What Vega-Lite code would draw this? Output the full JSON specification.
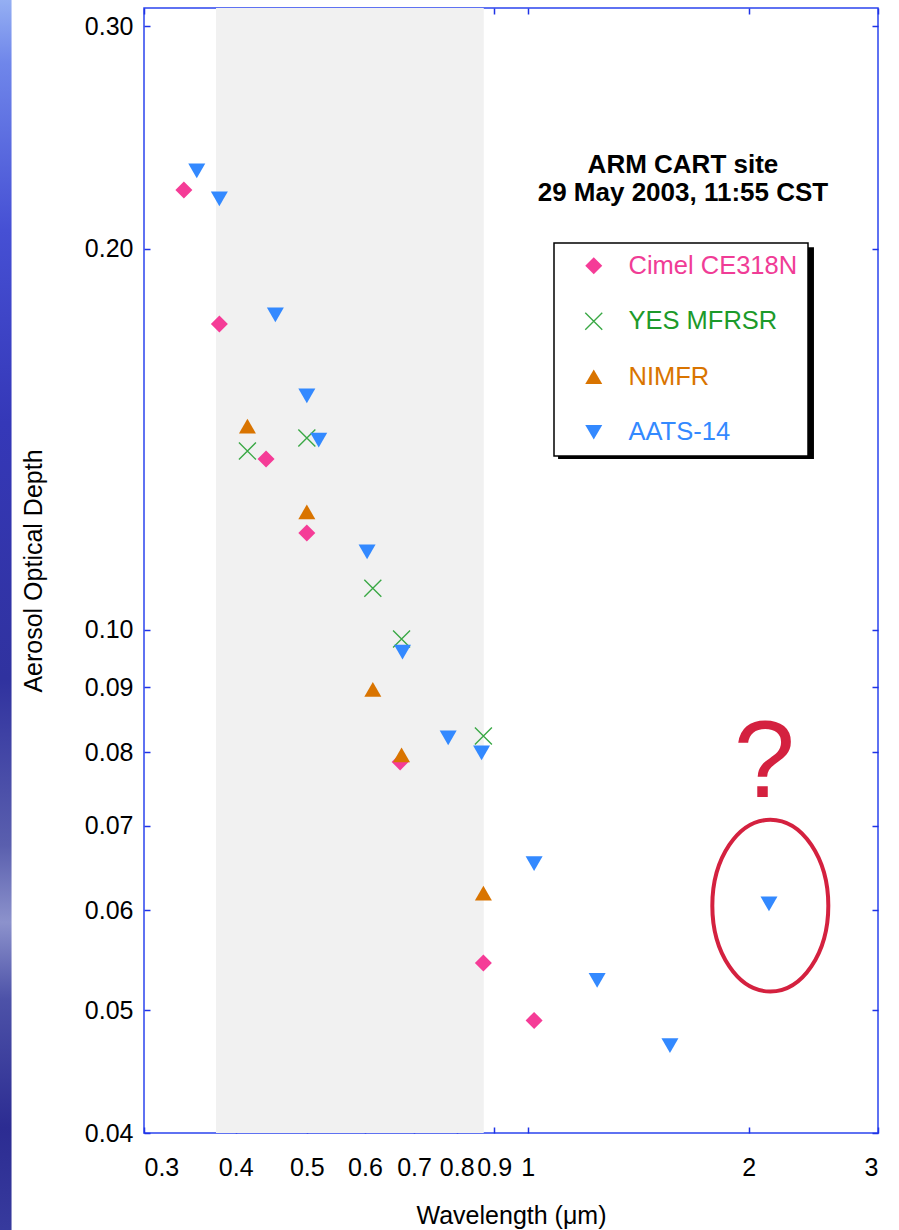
{
  "$schema": "https://vega.github.io/schema/vega-lite/v6.json",
  "width": 734,
  "height": 1125,
  "autosize": {"type": "none"},
  "padding": {"left": 144, "top": 8, "right": 21, "bottom": 97},
  "background": "white",
  "config": {
    "font": "Liberation Sans",
    "view": {"stroke": "#2b44ee", "strokeWidth": 1.5},
    "axis": {"grid": false, "domain": false, "tickColor": "#1f33e6", "tickWidth": 1.5, "tickSize": -6, "labelFont": "Liberation Sans", "labelFontSize": 25, "labelColor": "#000000", "titleFont": "Liberation Sans", "titleFontSize": 25, "titleFontWeight": "normal", "titleColor": "#000000"},
    "legend": {"orient": "none", "legendX": 410, "legendY": 235, "padding": 10, "strokeColor": "#000000", "strokeWidth": 1.5, "fillColor": "#ffffff", "labelFont": "Liberation Sans", "labelFontSize": 25.5, "labelLimit": 400, "symbolSize": 289, "symbolOffset": 17, "labelOffset": 22, "rowPadding": 28.5, "symbolStrokeWidth": 0,
      "labelColor": {"expr": "datum.value === 'Cimel CE318N' ? '#f03c96' : datum.value === 'YES MFRSR' ? '#1c9a2a' : datum.value === 'NIMFR' ? '#d97400' : '#3389ff'"}}
  },
  "datasets": {
    "points": [
      {"wl": 0.340, "aod": 0.2226, "inst": "Cimel CE318N"},
      {"wl": 0.380, "aod": 0.1744, "inst": "Cimel CE318N"},
      {"wl": 0.440, "aod": 0.1364, "inst": "Cimel CE318N"},
      {"wl": 0.500, "aod": 0.1192, "inst": "Cimel CE318N"},
      {"wl": 0.670, "aod": 0.0786, "inst": "Cimel CE318N"},
      {"wl": 0.870, "aod": 0.0545, "inst": "Cimel CE318N"},
      {"wl": 1.020, "aod": 0.0491, "inst": "Cimel CE318N"},
      {"wl": 0.415, "aod": 0.1384, "inst": "YES MFRSR"},
      {"wl": 0.500, "aod": 0.1417, "inst": "YES MFRSR"},
      {"wl": 0.615, "aod": 0.1078, "inst": "YES MFRSR"},
      {"wl": 0.673, "aod": 0.0983, "inst": "YES MFRSR"},
      {"wl": 0.870, "aod": 0.0824, "inst": "YES MFRSR"},
      {"wl": 0.415, "aod": 0.1448, "inst": "NIMFR"},
      {"wl": 0.500, "aod": 0.1239, "inst": "NIMFR"},
      {"wl": 0.615, "aod": 0.0897, "inst": "NIMFR"},
      {"wl": 0.673, "aod": 0.0796, "inst": "NIMFR"},
      {"wl": 0.870, "aod": 0.0619, "inst": "NIMFR"},
      {"wl": 0.354, "aod": 0.2305, "inst": "AATS-14"},
      {"wl": 0.380, "aod": 0.2190, "inst": "AATS-14"},
      {"wl": 0.453, "aod": 0.1773, "inst": "AATS-14"},
      {"wl": 0.500, "aod": 0.1530, "inst": "AATS-14"},
      {"wl": 0.519, "aod": 0.1412, "inst": "AATS-14"},
      {"wl": 0.604, "aod": 0.1152, "inst": "AATS-14"},
      {"wl": 0.675, "aod": 0.0960, "inst": "AATS-14"},
      {"wl": 0.779, "aod": 0.0821, "inst": "AATS-14"},
      {"wl": 0.865, "aod": 0.0799, "inst": "AATS-14"},
      {"wl": 1.020, "aod": 0.0653, "inst": "AATS-14"},
      {"wl": 1.243, "aod": 0.0528, "inst": "AATS-14"},
      {"wl": 1.562, "aod": 0.0469, "inst": "AATS-14"},
      {"wl": 2.131, "aod": 0.0607, "inst": "AATS-14"}
    ]
  },
  "resolve": {"axis": {"x": "independent", "y": "independent"}},
  "layer": [
    {
      "data": {"values": [{"wl": 0.376, "wl2": 0.871}]},
      "mark": {"type": "rect", "color": "#f1f1f1"},
      "encoding": {
        "x": {"field": "wl", "type": "quantitative", "scale": {"type": "log", "domain": [0.3, 3], "nice": false},
          "axis": {"orient": "bottom", "values": [0.3, 0.4, 0.5, 0.6, 0.7, 0.8, 0.9, 1, 2, 3], "format": "~g", "labelOverlap": false, "labelPadding": 28, "title": "Wavelength (μm)", "titleY": 82, "titleBaseline": "middle"}},
        "x2": {"field": "wl2"}
      }
    },
    {
      "data": {"values": [{"wl": 0.185, "wl2": 0.198, "aod": 0.33, "aod2": 0.032}]},
      "mark": {"type": "rect", "clip": false, "color": {"gradient": "linear", "x1": 0, "y1": 0, "x2": 0, "y2": 1, "stops": [
        {"offset": 0, "color": "#a4c0f6"},
        {"offset": 0.07, "color": "#6f86ea"},
        {"offset": 0.2, "color": "#4650d4"},
        {"offset": 0.35, "color": "#3538b8"},
        {"offset": 0.55, "color": "#30329f"},
        {"offset": 0.68, "color": "#5a5fae"},
        {"offset": 0.74, "color": "#8c92cc"},
        {"offset": 0.8, "color": "#4d52a8"},
        {"offset": 0.9, "color": "#2c2c92"},
        {"offset": 1, "color": "#3a3ea0"}]}},
      "encoding": {
        "x": {"field": "wl", "type": "quantitative", "axis": null},
        "x2": {"field": "wl2"},
        "y": {"field": "aod", "type": "quantitative", "scale": {"type": "log", "domain": [0.04, 0.31], "nice": false},
          "axis": {"orient": "left", "values": [0.04, 0.05, 0.06, 0.07, 0.08, 0.09, 0.1, 0.2, 0.3], "format": ".2f", "labelOverlap": false, "labelPadding": 17, "title": "Aerosol Optical Depth", "titleX": -111, "titleBaseline": "middle"}},
        "y2": {"field": "aod2"}
      }
    },
    {
      "data": {"values": [{"wl": 1.0996, "wl2": 2.454, "aod": 0.2006, "aod2": 0.1364}]},
      "mark": {"type": "rect", "color": "#000000"},
      "encoding": {
        "x": {"field": "wl", "type": "quantitative", "axis": null},
        "x2": {"field": "wl2"},
        "y": {"field": "aod", "type": "quantitative", "axis": null},
        "y2": {"field": "aod2"}
      }
    },
    {
      "data": {"name": "points"},
      "mark": {"type": "point", "filled": true, "opacity": 1, "size": 289},
      "encoding": {
        "x": {"field": "wl", "type": "quantitative",
          "axis": {"orient": "top", "values": [0.3, 0.4, 0.5, 0.6, 0.7, 0.8, 0.9, 1, 2, 3], "labels": false, "title": null}},
        "y": {"field": "aod", "type": "quantitative",
          "axis": {"orient": "right", "values": [0.04, 0.05, 0.06, 0.07, 0.08, 0.09, 0.1, 0.2, 0.3], "labels": false, "title": null}},
        "color": {"field": "inst", "type": "nominal",
          "scale": {"domain": ["Cimel CE318N", "YES MFRSR", "NIMFR", "AATS-14"], "range": ["#f53c97", "#3aa845", "#d97400", "#3389ff"]},
          "legend": {"title": null}},
        "shape": {"field": "inst", "type": "nominal",
          "scale": {"domain": ["Cimel CE318N", "YES MFRSR", "NIMFR", "AATS-14"], "range": ["diamond", "M-0.943,-1.057L1.057,0.943L0.943,1.057L-1.057,-0.943ZM-1.057,0.943L0.943,-1.057L1.057,-0.943L-0.943,1.057Z", "triangle-up", "triangle-down"]},
          "legend": {"title": null}}
      }
    },
    {
      "data": {"values": [{"wl": 2.14, "aod": 0.0605}]},
      "mark": {"type": "point", "shape": "M-1,0A1,1.48 0 1,1 1,0A1,1.48 0 1,1 -1,0Z", "size": 13456, "filled": false, "stroke": "#d4213f", "strokeWidth": 4, "opacity": 1},
      "encoding": {
        "x": {"field": "wl", "type": "quantitative", "axis": null},
        "y": {"field": "aod", "type": "quantitative", "axis": null}
      }
    },
    {
      "data": {"values": [{"wl": 2.10, "aod": 0.0737, "label": "?"}]},
      "mark": {"type": "text", "fontSize": 110, "color": "#d4213f", "align": "center", "baseline": "alphabetic", "font": "Liberation Sans"},
      "encoding": {
        "x": {"field": "wl", "type": "quantitative", "axis": null},
        "y": {"field": "aod", "type": "quantitative", "axis": null},
        "text": {"field": "label"}
      }
    },
    {
      "data": {"values": [{"wl": 1.627, "aod": 0.2330, "label": "ARM CART site"}, {"wl": 1.627, "aod": 0.2213, "label": "29 May 2003, 11:55 CST"}]},
      "mark": {"type": "text", "fontSize": 26, "fontWeight": "bold", "color": "#000000", "align": "center", "baseline": "middle"},
      "encoding": {
        "x": {"field": "wl", "type": "quantitative", "axis": null},
        "y": {"field": "aod", "type": "quantitative", "axis": null},
        "text": {"field": "label"}
      }
    }
  ]
}
